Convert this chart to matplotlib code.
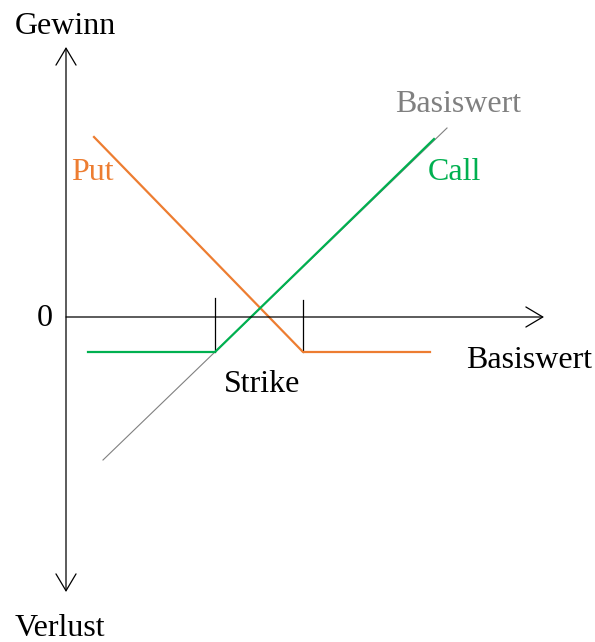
import matplotlib
matplotlib.use("Agg")
import matplotlib.pyplot as plt

# Values in chart units (origin at the axes' crossing)
basis_x = [3.7, 38.1]
basis_y = [-14.3, 18.9]

put_x = [2.8, 23.7, 36.4]
put_y = [18.0, -3.5, -3.5]

call_x = [2.2, 14.9, 36.8]
call_y = [-3.5, -3.5, 17.8]

strikes = [14.9, 23.7]
strike_tick_bottom = -3.5
strike_tick_top = [1.9, 1.7]

ORANGE = "#ED7D31"
GREEN = "#00B050"
GRAY = "#808080"

plt.rcParams['font.family'] = ['Liberation Serif', 'DejaVu Serif']

fig = plt.figure(figsize=(5.95, 6.42), dpi=100)
ax = fig.add_axes([0, 0, 1, 1])
ax.set_xlim(-6.6, 52.9)
ax.set_ylim(-32.5, 31.7)
ax.axis('off')

# axes arrows
astyle = '->,head_length=0.32,head_width=0.19'
ax.annotate('', xy=(0, 27.0), xytext=(0, -27.5),
            arrowprops=dict(arrowstyle='<' + astyle, color='black', lw=0.9,
                            mutation_scale=38, shrinkA=0, shrinkB=0))
ax.annotate('', xy=(47.8, 0), xytext=(0, 0),
            arrowprops=dict(arrowstyle=astyle, color='black', lw=0.9,
                            mutation_scale=38, shrinkA=0, shrinkB=0))

ax.plot(basis_x, basis_y, color=GRAY, lw=0.8)
for k, t in zip(strikes, strike_tick_top):
    ax.plot([k, k], [strike_tick_bottom, t], color='black', lw=0.9)
ax.plot(put_x, put_y, color=ORANGE, lw=1.6)
ax.plot(call_x, call_y, color=GREEN, lw=1.6)

fs = 23
ax.text(-0.1, 29.0, 'Gewinn', fontsize=fs, ha='center', va='center')
ax.text(-0.6, -31.95, 'Verlust', fontsize=fs, ha='center', va='baseline')
ax.text(-2.1, -0.2, '0', fontsize=fs, ha='center', va='center')
ax.text(46.3, -4.3, 'Basiswert', fontsize=fs, ha='center', va='center')
ax.text(19.6, -6.8, 'Strike', fontsize=fs, ha='center', va='center')
ax.text(2.6, 14.5, 'Put', fontsize=fs, ha='center', va='center', color=ORANGE)
ax.text(38.8, 14.4, 'Call', fontsize=fs, ha='center', va='center', color=GREEN)
ax.text(39.2, 21.2, 'Basiswert', fontsize=fs, ha='center', va='center', color=GRAY)

fig.savefig('out.png', dpi=100)
